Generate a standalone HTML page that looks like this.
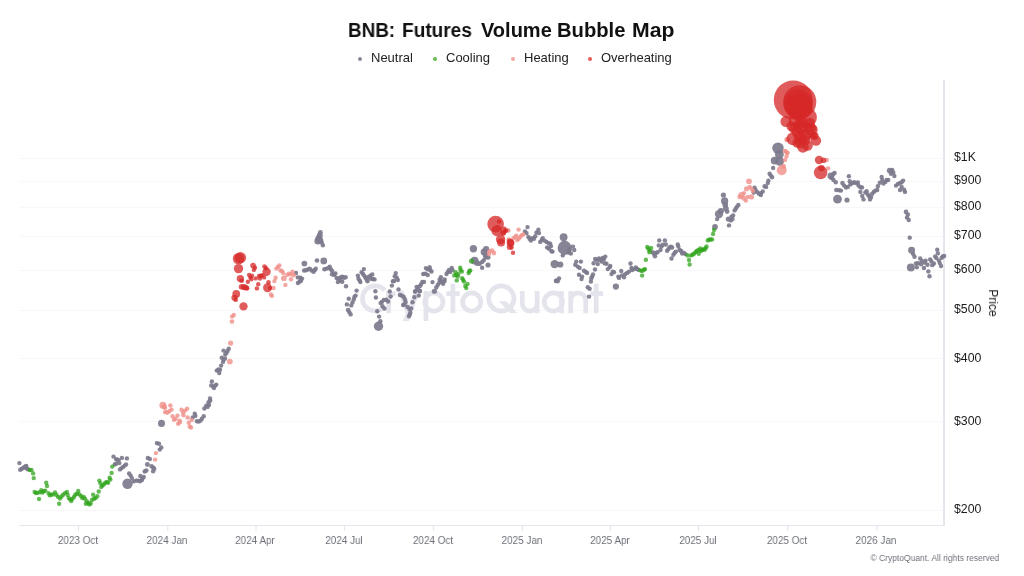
<!DOCTYPE html>
<html><head><meta charset="utf-8"><title>BNB: Futures Volume Bubble Map</title>
<style>
html,body{margin:0;padding:0;background:#fff;}
body>div{will-change:transform;}
body{width:1024px;height:576px;position:relative;overflow:hidden;font-family:"Liberation Sans",sans-serif;}
.title{position:absolute;left:0;width:1024px;top:18px;text-align:center;font-weight:bold;font-size:20px;line-height:24px;color:#111;white-space:nowrap;}
.tw{position:absolute;top:18px;font-weight:bold;font-size:20px;line-height:24px;color:#111;white-space:nowrap;transform-origin:0 50%;}
.lg{position:absolute;top:50px;font-size:13px;line-height:16px;color:#222;white-space:nowrap;}
.ld{position:absolute;top:56.5px;width:4px;height:4px;border-radius:50%;}
.yl{position:absolute;left:954px;font-size:12.3px;line-height:16px;color:#1a1a1a;white-space:nowrap;}
.xl{position:absolute;top:533.3px;width:80px;text-align:center;transform:scaleX(0.9);font-size:11px;line-height:14px;color:#6e7079;white-space:nowrap;}
.price{position:absolute;left:993px;top:302.7px;transform:translate(-50%,-50%) rotate(90deg);font-size:12px;color:#222;white-space:nowrap;}
.copy{position:absolute;right:24.7px;top:552.3px;transform:scaleX(0.893);transform-origin:100% 50%;font-size:9.5px;line-height:12px;color:#6e7079;white-space:nowrap;}
</style></head><body>
<svg width="1024" height="576" viewBox="0 0 1024 576" style="position:absolute;left:0;top:0">
<g stroke="#f8f8fa" stroke-width="1" shape-rendering="crispEdges">
<line x1="19" x2="944" y1="158.5" y2="158.5"/>
<line x1="19" x2="944" y1="181.5" y2="181.5"/>
<line x1="19" x2="944" y1="207.5" y2="207.5"/>
<line x1="19" x2="944" y1="236.5" y2="236.5"/>
<line x1="19" x2="944" y1="270.5" y2="270.5"/>
<line x1="19" x2="944" y1="310.5" y2="310.5"/>
<line x1="19" x2="944" y1="358.5" y2="358.5"/>
<line x1="19" x2="944" y1="421.5" y2="421.5"/>
<line x1="19" x2="944" y1="510.5" y2="510.5"/>
</g>
<path d="M384.75,290.30 A12.6,12.6 0 1 0 384.75,306.50 M388.6,313.2 V291 M388.6,300.4 a7,7 0 0 1 7,-7 M425.9,291 V321 M424.8,302 a9.1,9.1 0 1 0 18.2,0 a9.1,9.1 0 1 0 -18.2,0 M452.9,283.8 V313.2 M446.2,293.6 H459.8 M462.6,302 a9.1,9.1 0 1 0 18.2,0 a9.1,9.1 0 1 0 -18.2,0 M488.65,298.5 a12.65,12.65 0 1 0 25.3,0 a12.65,12.65 0 1 0 -25.3,0 M522.3,291 V303.65 a7.4,7.4 0 0 0 14.8,0 M537.1,291 V313.2 M544.25,302 a9.1,9.1 0 1 0 18.2,0 a9.1,9.1 0 1 0 -18.2,0 M561.5,291 V313.2 M570.7,313.2 V291 M570.7,300.35 a7.5,7.5 0 0 1 15,0 V313.2 M596.2,283.8 V313.2 M590.3,293.6 H603" fill="none" stroke="#e4e4ec" stroke-width="4.7"/><polygon points="414.4,290.6 420.4,290.6 408.9,321 402.9,321" fill="#e4e4ec"/><polygon points="397.4,290.6 403.4,290.6 411.9,313.4 405.9,313.4" fill="#e4e4ec"/><polygon points="498.9,301.2 505.9,301.2 517.2,312.9 510,312.9" fill="#e4e4ec"/>
<g fill="#e6e6ef" shape-rendering="crispEdges">
<rect x="943" y="80" width="2" height="446"/>
<rect x="19" y="524.6" width="926" height="1.4"/>
</g><g stroke="#e3e3ec" stroke-width="1">
<line x1="78.5" x2="78.5" y1="525" y2="531"/>
<line x1="167.8" x2="167.8" y1="525" y2="531"/>
<line x1="256.0" x2="256.0" y1="525" y2="531"/>
<line x1="344.3" x2="344.3" y1="525" y2="531"/>
<line x1="433.4" x2="433.4" y1="525" y2="531"/>
<line x1="522.6" x2="522.6" y1="525" y2="531"/>
<line x1="610.4" x2="610.4" y1="525" y2="531"/>
<line x1="698.5" x2="698.5" y1="525" y2="531"/>
<line x1="787.7" x2="787.7" y1="525" y2="531"/>
<line x1="877.0" x2="877.0" y1="525" y2="531"/>
</g>
<circle cx="19.38" cy="463.12" r="2.2" fill="#7c7a8c" fill-opacity="0.92"/>
<circle cx="20.25" cy="469.75" r="2.2" fill="#7c7a8c" fill-opacity="0.92"/>
<circle cx="21.88" cy="468.75" r="2.2" fill="#7c7a8c" fill-opacity="0.92"/>
<circle cx="23.75" cy="467.5" r="2.2" fill="#7c7a8c" fill-opacity="0.92"/>
<circle cx="25.62" cy="466.5" r="2.2048" fill="#7c7a8c" fill-opacity="0.92"/>
<circle cx="26.88" cy="468.5" r="2.2" fill="#7c7a8c" fill-opacity="0.92"/>
<circle cx="28.12" cy="469.38" r="2.2" fill="#7c7a8c" fill-opacity="0.92"/>
<circle cx="113.5" cy="456.62" r="2.2" fill="#7c7a8c" fill-opacity="0.92"/>
<circle cx="114.75" cy="464.38" r="2.2" fill="#7c7a8c" fill-opacity="0.92"/>
<circle cx="116.0" cy="459.12" r="2.2" fill="#7c7a8c" fill-opacity="0.92"/>
<circle cx="117.5" cy="459.75" r="2.2" fill="#7c7a8c" fill-opacity="0.92"/>
<circle cx="118.5" cy="460.25" r="2.2" fill="#7c7a8c" fill-opacity="0.92"/>
<circle cx="119.38" cy="463.12" r="2.2" fill="#7c7a8c" fill-opacity="0.92"/>
<circle cx="120.0" cy="469.38" r="2.2" fill="#7c7a8c" fill-opacity="0.92"/>
<circle cx="121.62" cy="468.12" r="2.2" fill="#7c7a8c" fill-opacity="0.92"/>
<circle cx="121.88" cy="457.88" r="2.2" fill="#7c7a8c" fill-opacity="0.92"/>
<circle cx="123.12" cy="466.88" r="2.2" fill="#7c7a8c" fill-opacity="0.92"/>
<circle cx="124.75" cy="465.62" r="2.2" fill="#7c7a8c" fill-opacity="0.92"/>
<circle cx="126.0" cy="464.38" r="2.2" fill="#7c7a8c" fill-opacity="0.92"/>
<circle cx="126.88" cy="458.38" r="2.2" fill="#7c7a8c" fill-opacity="0.92"/>
<circle cx="127.5" cy="483.75" r="5.2" fill="#7c7a8c" fill-opacity="0.92"/>
<circle cx="129.12" cy="473.5" r="2.2" fill="#7c7a8c" fill-opacity="0.92"/>
<circle cx="130.62" cy="475.62" r="2.2" fill="#7c7a8c" fill-opacity="0.92"/>
<circle cx="131.88" cy="478.12" r="2.2" fill="#7c7a8c" fill-opacity="0.92"/>
<circle cx="133.75" cy="481.25" r="2.2" fill="#7c7a8c" fill-opacity="0.92"/>
<circle cx="136.25" cy="480.62" r="2.2" fill="#7c7a8c" fill-opacity="0.92"/>
<circle cx="138.12" cy="480.62" r="2.2" fill="#7c7a8c" fill-opacity="0.92"/>
<circle cx="140.0" cy="481.25" r="2.2" fill="#7c7a8c" fill-opacity="0.92"/>
<circle cx="141.88" cy="480.0" r="2.2" fill="#7c7a8c" fill-opacity="0.92"/>
<circle cx="140.31" cy="475.94" r="2.2" fill="#7c7a8c" fill-opacity="0.92"/>
<circle cx="142.5" cy="478.44" r="2.2" fill="#7c7a8c" fill-opacity="0.92"/>
<circle cx="143.75" cy="476.88" r="2.2" fill="#7c7a8c" fill-opacity="0.92"/>
<circle cx="144.69" cy="471.56" r="2.2" fill="#7c7a8c" fill-opacity="0.92"/>
<circle cx="146.25" cy="470.62" r="2.34" fill="#7c7a8c" fill-opacity="0.92"/>
<circle cx="147.38" cy="464.5" r="2.4752" fill="#7c7a8c" fill-opacity="0.92"/>
<circle cx="147.81" cy="458.0" r="2.2" fill="#7c7a8c" fill-opacity="0.92"/>
<circle cx="149.88" cy="459.06" r="2.2" fill="#7c7a8c" fill-opacity="0.92"/>
<circle cx="151.56" cy="466.25" r="2.2" fill="#7c7a8c" fill-opacity="0.92"/>
<circle cx="153.12" cy="467.5" r="2.2" fill="#7c7a8c" fill-opacity="0.92"/>
<circle cx="154.25" cy="468.75" r="2.2" fill="#7c7a8c" fill-opacity="0.92"/>
<circle cx="153.12" cy="471.25" r="2.2" fill="#7c7a8c" fill-opacity="0.92"/>
<circle cx="156.88" cy="443.12" r="2.2" fill="#7c7a8c" fill-opacity="0.92"/>
<circle cx="159.0" cy="443.75" r="2.2" fill="#7c7a8c" fill-opacity="0.92"/>
<circle cx="161.25" cy="447.5" r="2.2" fill="#7c7a8c" fill-opacity="0.92"/>
<circle cx="159.75" cy="449.62" r="2.2" fill="#7c7a8c" fill-opacity="0.92"/>
<circle cx="161.5" cy="423.38" r="3.5152" fill="#7c7a8c" fill-opacity="0.92"/>
<circle cx="192.75" cy="417.5" r="2.2" fill="#7c7a8c" fill-opacity="0.92"/>
<circle cx="194.75" cy="413.75" r="2.2" fill="#7c7a8c" fill-opacity="0.92"/>
<circle cx="195.38" cy="415.88" r="2.2" fill="#7c7a8c" fill-opacity="0.92"/>
<circle cx="196.88" cy="421.25" r="2.2" fill="#7c7a8c" fill-opacity="0.92"/>
<circle cx="198.75" cy="421.5" r="2.2" fill="#7c7a8c" fill-opacity="0.92"/>
<circle cx="200.62" cy="420.62" r="2.2" fill="#7c7a8c" fill-opacity="0.92"/>
<circle cx="201.88" cy="418.75" r="2.2" fill="#7c7a8c" fill-opacity="0.92"/>
<circle cx="203.75" cy="416.25" r="2.2" fill="#7c7a8c" fill-opacity="0.92"/>
<circle cx="204.38" cy="408.5" r="2.2" fill="#7c7a8c" fill-opacity="0.92"/>
<circle cx="206.25" cy="405.62" r="2.2" fill="#7c7a8c" fill-opacity="0.92"/>
<circle cx="207.5" cy="406.88" r="2.2" fill="#7c7a8c" fill-opacity="0.92"/>
<circle cx="209.0" cy="405.0" r="2.2" fill="#7c7a8c" fill-opacity="0.92"/>
<circle cx="208.5" cy="402.25" r="2.2" fill="#7c7a8c" fill-opacity="0.92"/>
<circle cx="210.25" cy="400.62" r="2.2" fill="#7c7a8c" fill-opacity="0.92"/>
<circle cx="210.0" cy="398.5" r="2.2" fill="#7c7a8c" fill-opacity="0.92"/>
<circle cx="211.88" cy="381.5" r="2.2" fill="#7c7a8c" fill-opacity="0.92"/>
<circle cx="211.25" cy="385.38" r="2.2" fill="#7c7a8c" fill-opacity="0.92"/>
<circle cx="213.0" cy="386.5" r="2.2" fill="#7c7a8c" fill-opacity="0.92"/>
<circle cx="214.0" cy="388.12" r="2.2" fill="#7c7a8c" fill-opacity="0.92"/>
<circle cx="215.25" cy="385.62" r="2.2" fill="#7c7a8c" fill-opacity="0.92"/>
<circle cx="216.25" cy="384.62" r="2.2" fill="#7c7a8c" fill-opacity="0.92"/>
<circle cx="216.75" cy="370.62" r="2.2" fill="#7c7a8c" fill-opacity="0.92"/>
<circle cx="218.38" cy="369.38" r="2.2" fill="#7c7a8c" fill-opacity="0.92"/>
<circle cx="219.25" cy="373.12" r="2.2" fill="#7c7a8c" fill-opacity="0.92"/>
<circle cx="220.0" cy="369.75" r="2.2" fill="#7c7a8c" fill-opacity="0.92"/>
<circle cx="221.12" cy="365.62" r="2.2" fill="#7c7a8c" fill-opacity="0.92"/>
<circle cx="221.75" cy="357.75" r="2.2" fill="#7c7a8c" fill-opacity="0.92"/>
<circle cx="223.0" cy="361.88" r="2.2" fill="#7c7a8c" fill-opacity="0.92"/>
<circle cx="223.75" cy="359.62" r="2.2" fill="#7c7a8c" fill-opacity="0.92"/>
<circle cx="225.0" cy="358.5" r="2.2" fill="#7c7a8c" fill-opacity="0.92"/>
<circle cx="223.5" cy="350.62" r="2.2" fill="#7c7a8c" fill-opacity="0.92"/>
<circle cx="225.25" cy="354.38" r="2.2" fill="#7c7a8c" fill-opacity="0.92"/>
<circle cx="226.5" cy="352.75" r="2.2" fill="#7c7a8c" fill-opacity="0.92"/>
<circle cx="227.5" cy="351.0" r="2.2" fill="#7c7a8c" fill-opacity="0.92"/>
<circle cx="228.75" cy="348.75" r="2.2" fill="#7c7a8c" fill-opacity="0.92"/>
<circle cx="296.0" cy="273.0" r="2.2" fill="#7c7a8c" fill-opacity="0.92"/>
<circle cx="297.88" cy="277.38" r="2.2" fill="#7c7a8c" fill-opacity="0.92"/>
<circle cx="300.38" cy="277.75" r="2.2" fill="#7c7a8c" fill-opacity="0.92"/>
<circle cx="302.0" cy="278.62" r="2.2" fill="#7c7a8c" fill-opacity="0.92"/>
<circle cx="301.0" cy="280.75" r="2.2" fill="#7c7a8c" fill-opacity="0.92"/>
<circle cx="299.5" cy="281.75" r="2.2" fill="#7c7a8c" fill-opacity="0.92"/>
<circle cx="297.88" cy="283.0" r="2.2" fill="#7c7a8c" fill-opacity="0.92"/>
<circle cx="304.12" cy="270.5" r="2.2" fill="#7c7a8c" fill-opacity="0.92"/>
<circle cx="306.0" cy="270.25" r="2.2" fill="#7c7a8c" fill-opacity="0.92"/>
<circle cx="307.88" cy="269.5" r="2.2" fill="#7c7a8c" fill-opacity="0.92"/>
<circle cx="309.75" cy="268.62" r="2.2" fill="#7c7a8c" fill-opacity="0.92"/>
<circle cx="311.62" cy="270.5" r="2.2" fill="#7c7a8c" fill-opacity="0.92"/>
<circle cx="313.5" cy="271.75" r="2.2" fill="#7c7a8c" fill-opacity="0.92"/>
<circle cx="314.75" cy="270.25" r="2.2" fill="#7c7a8c" fill-opacity="0.92"/>
<circle cx="315.75" cy="268.62" r="2.2" fill="#7c7a8c" fill-opacity="0.92"/>
<circle cx="304.38" cy="263.62" r="2.8600000000000003" fill="#7c7a8c" fill-opacity="0.92"/>
<circle cx="317.0" cy="260.5" r="2.34" fill="#7c7a8c" fill-opacity="0.92"/>
<circle cx="323.75" cy="260.88" r="3.38" fill="#7c7a8c" fill-opacity="0.92"/>
<circle cx="324.5" cy="269.25" r="2.34" fill="#7c7a8c" fill-opacity="0.92"/>
<circle cx="326.62" cy="268.62" r="2.2" fill="#7c7a8c" fill-opacity="0.92"/>
<circle cx="328.5" cy="268.0" r="2.2" fill="#7c7a8c" fill-opacity="0.92"/>
<circle cx="329.75" cy="266.75" r="2.2" fill="#7c7a8c" fill-opacity="0.92"/>
<circle cx="331.0" cy="269.5" r="2.2" fill="#7c7a8c" fill-opacity="0.92"/>
<circle cx="332.25" cy="271.12" r="2.2" fill="#7c7a8c" fill-opacity="0.92"/>
<circle cx="332.0" cy="274.25" r="2.2" fill="#7c7a8c" fill-opacity="0.92"/>
<circle cx="334.12" cy="274.88" r="2.2" fill="#7c7a8c" fill-opacity="0.92"/>
<circle cx="335.38" cy="273.38" r="2.2" fill="#7c7a8c" fill-opacity="0.92"/>
<circle cx="336.62" cy="278.0" r="2.2" fill="#7c7a8c" fill-opacity="0.92"/>
<circle cx="338.5" cy="278.62" r="2.2" fill="#7c7a8c" fill-opacity="0.92"/>
<circle cx="340.38" cy="277.38" r="2.2" fill="#7c7a8c" fill-opacity="0.92"/>
<circle cx="342.25" cy="276.75" r="2.2" fill="#7c7a8c" fill-opacity="0.92"/>
<circle cx="337.88" cy="282.0" r="2.2" fill="#7c7a8c" fill-opacity="0.92"/>
<circle cx="340.38" cy="280.75" r="2.2" fill="#7c7a8c" fill-opacity="0.92"/>
<circle cx="342.25" cy="281.75" r="2.2" fill="#7c7a8c" fill-opacity="0.92"/>
<circle cx="320.38" cy="232.5" r="2.4752" fill="#7c7a8c" fill-opacity="0.92"/>
<circle cx="319.75" cy="235.62" r="2.9952" fill="#7c7a8c" fill-opacity="0.92"/>
<circle cx="318.88" cy="238.5" r="3.5152" fill="#7c7a8c" fill-opacity="0.92"/>
<circle cx="317.88" cy="241.0" r="3.5152" fill="#7c7a8c" fill-opacity="0.92"/>
<circle cx="320.38" cy="240.25" r="2.8600000000000003" fill="#7c7a8c" fill-opacity="0.92"/>
<circle cx="321.62" cy="242.5" r="2.34" fill="#7c7a8c" fill-opacity="0.92"/>
<circle cx="322.88" cy="245.25" r="2.2" fill="#7c7a8c" fill-opacity="0.92"/>
<circle cx="343.88" cy="277.75" r="2.2" fill="#7c7a8c" fill-opacity="0.92"/>
<circle cx="345.62" cy="277.25" r="2.2" fill="#7c7a8c" fill-opacity="0.92"/>
<circle cx="346.0" cy="286.25" r="2.2" fill="#7c7a8c" fill-opacity="0.92"/>
<circle cx="356.62" cy="290.62" r="2.2" fill="#7c7a8c" fill-opacity="0.92"/>
<circle cx="357.88" cy="275.62" r="2.2" fill="#7c7a8c" fill-opacity="0.92"/>
<circle cx="358.5" cy="278.75" r="2.2" fill="#7c7a8c" fill-opacity="0.92"/>
<circle cx="359.75" cy="280.62" r="2.2" fill="#7c7a8c" fill-opacity="0.92"/>
<circle cx="360.38" cy="282.12" r="2.2" fill="#7c7a8c" fill-opacity="0.92"/>
<circle cx="361.62" cy="272.25" r="2.2" fill="#7c7a8c" fill-opacity="0.92"/>
<circle cx="362.88" cy="273.75" r="2.2" fill="#7c7a8c" fill-opacity="0.92"/>
<circle cx="363.88" cy="269.12" r="2.2" fill="#7c7a8c" fill-opacity="0.92"/>
<circle cx="364.12" cy="275.62" r="2.2" fill="#7c7a8c" fill-opacity="0.92"/>
<circle cx="365.38" cy="277.5" r="2.2" fill="#7c7a8c" fill-opacity="0.92"/>
<circle cx="366.62" cy="279.38" r="2.2" fill="#7c7a8c" fill-opacity="0.92"/>
<circle cx="367.5" cy="281.25" r="2.2" fill="#7c7a8c" fill-opacity="0.92"/>
<circle cx="368.5" cy="276.88" r="2.2" fill="#7c7a8c" fill-opacity="0.92"/>
<circle cx="370.38" cy="275.62" r="2.2" fill="#7c7a8c" fill-opacity="0.92"/>
<circle cx="372.25" cy="274.38" r="2.2" fill="#7c7a8c" fill-opacity="0.92"/>
<circle cx="371.0" cy="278.75" r="2.2" fill="#7c7a8c" fill-opacity="0.92"/>
<circle cx="372.88" cy="279.0" r="2.2" fill="#7c7a8c" fill-opacity="0.92"/>
<circle cx="374.5" cy="279.38" r="2.2" fill="#7c7a8c" fill-opacity="0.92"/>
<circle cx="375.38" cy="291.25" r="2.2" fill="#7c7a8c" fill-opacity="0.92"/>
<circle cx="395.75" cy="273.12" r="2.2" fill="#7c7a8c" fill-opacity="0.92"/>
<circle cx="394.75" cy="276.25" r="2.2" fill="#7c7a8c" fill-opacity="0.92"/>
<circle cx="396.62" cy="277.5" r="2.2" fill="#7c7a8c" fill-opacity="0.92"/>
<circle cx="397.88" cy="280.0" r="2.2" fill="#7c7a8c" fill-opacity="0.92"/>
<circle cx="392.88" cy="281.25" r="2.2" fill="#7c7a8c" fill-opacity="0.92"/>
<circle cx="394.12" cy="281.0" r="2.2" fill="#7c7a8c" fill-opacity="0.92"/>
<circle cx="391.88" cy="285.62" r="2.2" fill="#7c7a8c" fill-opacity="0.92"/>
<circle cx="398.5" cy="289.38" r="2.2" fill="#7c7a8c" fill-opacity="0.92"/>
<circle cx="389.75" cy="291.5" r="2.2" fill="#7c7a8c" fill-opacity="0.92"/>
<circle cx="423.25" cy="274.0" r="2.2" fill="#7c7a8c" fill-opacity="0.92"/>
<circle cx="422.25" cy="281.88" r="2.2" fill="#7c7a8c" fill-opacity="0.92"/>
<circle cx="421.0" cy="284.38" r="2.2" fill="#7c7a8c" fill-opacity="0.92"/>
<circle cx="419.75" cy="286.25" r="2.2" fill="#7c7a8c" fill-opacity="0.92"/>
<circle cx="416.62" cy="286.88" r="2.2" fill="#7c7a8c" fill-opacity="0.92"/>
<circle cx="417.88" cy="288.75" r="2.2" fill="#7c7a8c" fill-opacity="0.92"/>
<circle cx="415.38" cy="291.25" r="2.2" fill="#7c7a8c" fill-opacity="0.92"/>
<circle cx="419.75" cy="291.25" r="2.2" fill="#7c7a8c" fill-opacity="0.92"/>
<circle cx="355.62" cy="295.62" r="2.2" fill="#7c7a8c" fill-opacity="0.92"/>
<circle cx="354.38" cy="296.88" r="2.2" fill="#7c7a8c" fill-opacity="0.92"/>
<circle cx="348.75" cy="298.75" r="2.2" fill="#7c7a8c" fill-opacity="0.92"/>
<circle cx="353.75" cy="299.38" r="2.2" fill="#7c7a8c" fill-opacity="0.92"/>
<circle cx="352.5" cy="302.5" r="2.2" fill="#7c7a8c" fill-opacity="0.92"/>
<circle cx="346.88" cy="304.38" r="2.2" fill="#7c7a8c" fill-opacity="0.92"/>
<circle cx="351.25" cy="305.38" r="2.2" fill="#7c7a8c" fill-opacity="0.92"/>
<circle cx="348.12" cy="310.0" r="2.34" fill="#7c7a8c" fill-opacity="0.92"/>
<circle cx="349.38" cy="312.25" r="2.2" fill="#7c7a8c" fill-opacity="0.92"/>
<circle cx="350.62" cy="314.38" r="2.2" fill="#7c7a8c" fill-opacity="0.92"/>
<circle cx="375.88" cy="297.5" r="2.2" fill="#7c7a8c" fill-opacity="0.92"/>
<circle cx="390.62" cy="296.5" r="2.2" fill="#7c7a8c" fill-opacity="0.92"/>
<circle cx="386.25" cy="299.75" r="2.2" fill="#7c7a8c" fill-opacity="0.92"/>
<circle cx="388.12" cy="301.5" r="2.2" fill="#7c7a8c" fill-opacity="0.92"/>
<circle cx="383.75" cy="300.0" r="2.2" fill="#7c7a8c" fill-opacity="0.92"/>
<circle cx="381.88" cy="301.88" r="2.2" fill="#7c7a8c" fill-opacity="0.92"/>
<circle cx="380.62" cy="303.12" r="2.2" fill="#7c7a8c" fill-opacity="0.92"/>
<circle cx="382.5" cy="306.25" r="2.2" fill="#7c7a8c" fill-opacity="0.92"/>
<circle cx="384.38" cy="308.5" r="2.2" fill="#7c7a8c" fill-opacity="0.92"/>
<circle cx="377.25" cy="311.25" r="2.2" fill="#7c7a8c" fill-opacity="0.92"/>
<circle cx="379.12" cy="316.62" r="2.2" fill="#7c7a8c" fill-opacity="0.92"/>
<circle cx="380.38" cy="321.25" r="2.2" fill="#7c7a8c" fill-opacity="0.92"/>
<circle cx="378.5" cy="326.25" r="4.68" fill="#7c7a8c" fill-opacity="0.92"/>
<circle cx="400.0" cy="295.0" r="2.34" fill="#7c7a8c" fill-opacity="0.92"/>
<circle cx="401.88" cy="295.62" r="2.2" fill="#7c7a8c" fill-opacity="0.92"/>
<circle cx="403.75" cy="296.88" r="2.2" fill="#7c7a8c" fill-opacity="0.92"/>
<circle cx="405.0" cy="299.38" r="2.2" fill="#7c7a8c" fill-opacity="0.92"/>
<circle cx="405.62" cy="301.88" r="2.2" fill="#7c7a8c" fill-opacity="0.92"/>
<circle cx="404.38" cy="304.38" r="2.2" fill="#7c7a8c" fill-opacity="0.92"/>
<circle cx="403.12" cy="305.0" r="2.2" fill="#7c7a8c" fill-opacity="0.92"/>
<circle cx="407.5" cy="306.88" r="2.2" fill="#7c7a8c" fill-opacity="0.92"/>
<circle cx="409.38" cy="309.0" r="2.2" fill="#7c7a8c" fill-opacity="0.92"/>
<circle cx="411.25" cy="308.5" r="2.2" fill="#7c7a8c" fill-opacity="0.92"/>
<circle cx="410.38" cy="312.75" r="2.2" fill="#7c7a8c" fill-opacity="0.92"/>
<circle cx="409.75" cy="314.38" r="2.2" fill="#7c7a8c" fill-opacity="0.92"/>
<circle cx="409.0" cy="316.25" r="2.2" fill="#7c7a8c" fill-opacity="0.92"/>
<circle cx="412.5" cy="302.25" r="2.2048" fill="#7c7a8c" fill-opacity="0.92"/>
<circle cx="414.38" cy="297.25" r="2.2" fill="#7c7a8c" fill-opacity="0.92"/>
<circle cx="415.0" cy="291.5" r="2.2" fill="#7c7a8c" fill-opacity="0.92"/>
<circle cx="418.75" cy="295.62" r="2.2" fill="#7c7a8c" fill-opacity="0.92"/>
<circle cx="420.0" cy="291.0" r="2.2" fill="#7c7a8c" fill-opacity="0.92"/>
<circle cx="432.5" cy="282.12" r="2.2" fill="#7c7a8c" fill-opacity="0.92"/>
<circle cx="434.38" cy="291.25" r="2.6" fill="#7c7a8c" fill-opacity="0.92"/>
<circle cx="436.25" cy="287.5" r="2.2" fill="#7c7a8c" fill-opacity="0.92"/>
<circle cx="437.75" cy="285.0" r="2.2" fill="#7c7a8c" fill-opacity="0.92"/>
<circle cx="439.38" cy="282.75" r="2.2" fill="#7c7a8c" fill-opacity="0.92"/>
<circle cx="441.25" cy="281.25" r="2.2" fill="#7c7a8c" fill-opacity="0.92"/>
<circle cx="443.12" cy="283.75" r="2.2" fill="#7c7a8c" fill-opacity="0.92"/>
<circle cx="444.38" cy="281.25" r="2.2" fill="#7c7a8c" fill-opacity="0.92"/>
<circle cx="425.88" cy="268.12" r="2.2" fill="#7c7a8c" fill-opacity="0.92"/>
<circle cx="427.75" cy="269.38" r="2.2" fill="#7c7a8c" fill-opacity="0.92"/>
<circle cx="429.62" cy="267.25" r="2.2" fill="#7c7a8c" fill-opacity="0.92"/>
<circle cx="430.25" cy="270.0" r="2.2" fill="#7c7a8c" fill-opacity="0.92"/>
<circle cx="431.5" cy="271.5" r="2.2" fill="#7c7a8c" fill-opacity="0.92"/>
<circle cx="425.25" cy="273.75" r="2.2" fill="#7c7a8c" fill-opacity="0.92"/>
<circle cx="427.75" cy="275.0" r="2.2" fill="#7c7a8c" fill-opacity="0.92"/>
<circle cx="424.0" cy="281.88" r="2.2" fill="#7c7a8c" fill-opacity="0.92"/>
<circle cx="440.88" cy="277.25" r="2.2" fill="#7c7a8c" fill-opacity="0.92"/>
<circle cx="439.62" cy="279.75" r="2.2" fill="#7c7a8c" fill-opacity="0.92"/>
<circle cx="444.62" cy="279.38" r="2.2" fill="#7c7a8c" fill-opacity="0.92"/>
<circle cx="442.75" cy="281.88" r="2.2" fill="#7c7a8c" fill-opacity="0.92"/>
<circle cx="446.5" cy="274.0" r="2.2" fill="#7c7a8c" fill-opacity="0.92"/>
<circle cx="447.75" cy="271.88" r="2.2" fill="#7c7a8c" fill-opacity="0.92"/>
<circle cx="449.0" cy="270.0" r="2.2" fill="#7c7a8c" fill-opacity="0.92"/>
<circle cx="450.25" cy="271.88" r="2.2" fill="#7c7a8c" fill-opacity="0.92"/>
<circle cx="451.75" cy="267.88" r="2.2" fill="#7c7a8c" fill-opacity="0.92"/>
<circle cx="452.5" cy="270.0" r="2.2" fill="#7c7a8c" fill-opacity="0.92"/>
<circle cx="473.38" cy="248.75" r="3.64" fill="#7c7a8c" fill-opacity="0.92"/>
<circle cx="474.62" cy="260.62" r="3.9000000000000004" fill="#7c7a8c" fill-opacity="0.92"/>
<circle cx="477.12" cy="263.12" r="2.8600000000000003" fill="#7c7a8c" fill-opacity="0.92"/>
<circle cx="479.62" cy="263.75" r="2.34" fill="#7c7a8c" fill-opacity="0.92"/>
<circle cx="482.12" cy="261.88" r="2.2" fill="#7c7a8c" fill-opacity="0.92"/>
<circle cx="482.12" cy="267.75" r="2.2" fill="#7c7a8c" fill-opacity="0.92"/>
<circle cx="483.75" cy="260.25" r="2.2" fill="#7c7a8c" fill-opacity="0.92"/>
<circle cx="488.0" cy="265.0" r="2.6" fill="#7c7a8c" fill-opacity="0.92"/>
<circle cx="484.0" cy="251.88" r="3.38" fill="#7c7a8c" fill-opacity="0.92"/>
<circle cx="486.12" cy="249.0" r="3.12" fill="#7c7a8c" fill-opacity="0.92"/>
<circle cx="485.5" cy="255.0" r="2.8600000000000003" fill="#7c7a8c" fill-opacity="0.92"/>
<circle cx="485.88" cy="257.5" r="2.34" fill="#7c7a8c" fill-opacity="0.92"/>
<circle cx="488.38" cy="257.5" r="2.2" fill="#7c7a8c" fill-opacity="0.92"/>
<circle cx="527.5" cy="227.12" r="2.2" fill="#7c7a8c" fill-opacity="0.92"/>
<circle cx="525.0" cy="231.5" r="2.2" fill="#7c7a8c" fill-opacity="0.92"/>
<circle cx="526.5" cy="233.12" r="2.2" fill="#7c7a8c" fill-opacity="0.92"/>
<circle cx="528.38" cy="236.88" r="2.2" fill="#7c7a8c" fill-opacity="0.92"/>
<circle cx="529.62" cy="238.75" r="2.2" fill="#7c7a8c" fill-opacity="0.92"/>
<circle cx="530.88" cy="240.62" r="2.2" fill="#7c7a8c" fill-opacity="0.92"/>
<circle cx="532.12" cy="238.12" r="2.2" fill="#7c7a8c" fill-opacity="0.92"/>
<circle cx="534.0" cy="238.75" r="2.2" fill="#7c7a8c" fill-opacity="0.92"/>
<circle cx="535.25" cy="236.25" r="2.2" fill="#7c7a8c" fill-opacity="0.92"/>
<circle cx="536.5" cy="232.5" r="2.2" fill="#7c7a8c" fill-opacity="0.92"/>
<circle cx="538.38" cy="229.75" r="2.2" fill="#7c7a8c" fill-opacity="0.92"/>
<circle cx="539.0" cy="233.12" r="2.2" fill="#7c7a8c" fill-opacity="0.92"/>
<circle cx="540.25" cy="241.88" r="2.2" fill="#7c7a8c" fill-opacity="0.92"/>
<circle cx="541.75" cy="240.0" r="2.2" fill="#7c7a8c" fill-opacity="0.92"/>
<circle cx="542.75" cy="238.12" r="2.2" fill="#7c7a8c" fill-opacity="0.92"/>
<circle cx="544.62" cy="240.62" r="2.2" fill="#7c7a8c" fill-opacity="0.92"/>
<circle cx="546.5" cy="241.88" r="2.2" fill="#7c7a8c" fill-opacity="0.92"/>
<circle cx="548.38" cy="243.12" r="2.2" fill="#7c7a8c" fill-opacity="0.92"/>
<circle cx="550.25" cy="243.75" r="2.2" fill="#7c7a8c" fill-opacity="0.92"/>
<circle cx="547.12" cy="247.5" r="2.2" fill="#7c7a8c" fill-opacity="0.92"/>
<circle cx="549.0" cy="248.75" r="2.2" fill="#7c7a8c" fill-opacity="0.92"/>
<circle cx="550.88" cy="246.25" r="2.2" fill="#7c7a8c" fill-opacity="0.92"/>
<circle cx="551.5" cy="251.25" r="2.2" fill="#7c7a8c" fill-opacity="0.92"/>
<circle cx="552.5" cy="251.62" r="2.2" fill="#7c7a8c" fill-opacity="0.92"/>
<circle cx="563.62" cy="237.25" r="3.9000000000000004" fill="#7c7a8c" fill-opacity="0.92"/>
<circle cx="564.62" cy="247.88" r="7.0200000000000005" fill="#7c7a8c" fill-opacity="0.92"/>
<circle cx="562.75" cy="255.38" r="2.2" fill="#7c7a8c" fill-opacity="0.92"/>
<circle cx="570.88" cy="253.5" r="2.2" fill="#7c7a8c" fill-opacity="0.92"/>
<circle cx="573.0" cy="246.62" r="2.2" fill="#7c7a8c" fill-opacity="0.92"/>
<circle cx="574.25" cy="250.0" r="2.2" fill="#7c7a8c" fill-opacity="0.92"/>
<circle cx="554.62" cy="264.12" r="4.16" fill="#7c7a8c" fill-opacity="0.92"/>
<circle cx="560.25" cy="264.5" r="3.12" fill="#7c7a8c" fill-opacity="0.92"/>
<circle cx="556.5" cy="280.38" r="2.2" fill="#7c7a8c" fill-opacity="0.92"/>
<circle cx="557.75" cy="281.25" r="2.2" fill="#7c7a8c" fill-opacity="0.92"/>
<circle cx="559.0" cy="278.5" r="2.2" fill="#7c7a8c" fill-opacity="0.92"/>
<circle cx="555.88" cy="281.0" r="2.2" fill="#7c7a8c" fill-opacity="0.92"/>
<circle cx="576.25" cy="261.62" r="2.2" fill="#7c7a8c" fill-opacity="0.92"/>
<circle cx="575.25" cy="264.75" r="2.2" fill="#7c7a8c" fill-opacity="0.92"/>
<circle cx="577.75" cy="266.62" r="2.2" fill="#7c7a8c" fill-opacity="0.92"/>
<circle cx="579.62" cy="267.88" r="2.2" fill="#7c7a8c" fill-opacity="0.92"/>
<circle cx="580.88" cy="261.62" r="2.2" fill="#7c7a8c" fill-opacity="0.92"/>
<circle cx="584.0" cy="270.75" r="2.2" fill="#7c7a8c" fill-opacity="0.92"/>
<circle cx="585.88" cy="272.0" r="2.2" fill="#7c7a8c" fill-opacity="0.92"/>
<circle cx="587.12" cy="272.88" r="2.2" fill="#7c7a8c" fill-opacity="0.92"/>
<circle cx="579.0" cy="274.75" r="2.2" fill="#7c7a8c" fill-opacity="0.92"/>
<circle cx="582.12" cy="276.62" r="2.2" fill="#7c7a8c" fill-opacity="0.92"/>
<circle cx="581.5" cy="279.12" r="2.2" fill="#7c7a8c" fill-opacity="0.92"/>
<circle cx="587.75" cy="287.25" r="2.2" fill="#7c7a8c" fill-opacity="0.92"/>
<circle cx="590.88" cy="281.62" r="2.2" fill="#7c7a8c" fill-opacity="0.92"/>
<circle cx="591.25" cy="278.5" r="2.2" fill="#7c7a8c" fill-opacity="0.92"/>
<circle cx="592.12" cy="276.62" r="2.2" fill="#7c7a8c" fill-opacity="0.92"/>
<circle cx="593.0" cy="274.5" r="2.2" fill="#7c7a8c" fill-opacity="0.92"/>
<circle cx="595.0" cy="269.5" r="2.2" fill="#7c7a8c" fill-opacity="0.92"/>
<circle cx="593.62" cy="263.25" r="2.2" fill="#7c7a8c" fill-opacity="0.92"/>
<circle cx="595.25" cy="259.12" r="2.34" fill="#7c7a8c" fill-opacity="0.92"/>
<circle cx="597.12" cy="260.38" r="2.2" fill="#7c7a8c" fill-opacity="0.92"/>
<circle cx="597.75" cy="264.12" r="2.2" fill="#7c7a8c" fill-opacity="0.92"/>
<circle cx="599.0" cy="258.5" r="2.2" fill="#7c7a8c" fill-opacity="0.92"/>
<circle cx="600.88" cy="259.75" r="2.2" fill="#7c7a8c" fill-opacity="0.92"/>
<circle cx="601.5" cy="261.62" r="2.2" fill="#7c7a8c" fill-opacity="0.92"/>
<circle cx="602.75" cy="257.88" r="2.2" fill="#7c7a8c" fill-opacity="0.92"/>
<circle cx="604.0" cy="259.12" r="2.2" fill="#7c7a8c" fill-opacity="0.92"/>
<circle cx="605.25" cy="256.62" r="2.2" fill="#7c7a8c" fill-opacity="0.92"/>
<circle cx="604.62" cy="263.25" r="2.2" fill="#7c7a8c" fill-opacity="0.92"/>
<circle cx="606.5" cy="263.75" r="2.2" fill="#7c7a8c" fill-opacity="0.92"/>
<circle cx="607.75" cy="269.12" r="2.2" fill="#7c7a8c" fill-opacity="0.92"/>
<circle cx="609.62" cy="267.25" r="2.2" fill="#7c7a8c" fill-opacity="0.92"/>
<circle cx="610.25" cy="266.0" r="2.2" fill="#7c7a8c" fill-opacity="0.92"/>
<circle cx="611.5" cy="274.12" r="2.2" fill="#7c7a8c" fill-opacity="0.92"/>
<circle cx="612.75" cy="271.62" r="2.2" fill="#7c7a8c" fill-opacity="0.92"/>
<circle cx="614.0" cy="272.25" r="2.2" fill="#7c7a8c" fill-opacity="0.92"/>
<circle cx="615.88" cy="286.62" r="3.12" fill="#7c7a8c" fill-opacity="0.92"/>
<circle cx="618.38" cy="276.62" r="2.2" fill="#7c7a8c" fill-opacity="0.92"/>
<circle cx="619.0" cy="277.88" r="2.2" fill="#7c7a8c" fill-opacity="0.92"/>
<circle cx="621.25" cy="271.0" r="2.2" fill="#7c7a8c" fill-opacity="0.92"/>
<circle cx="622.12" cy="275.38" r="2.2" fill="#7c7a8c" fill-opacity="0.92"/>
<circle cx="624.0" cy="277.25" r="2.2" fill="#7c7a8c" fill-opacity="0.92"/>
<circle cx="625.25" cy="274.12" r="2.2" fill="#7c7a8c" fill-opacity="0.92"/>
<circle cx="627.12" cy="272.88" r="2.2" fill="#7c7a8c" fill-opacity="0.92"/>
<circle cx="629.0" cy="271.62" r="2.2" fill="#7c7a8c" fill-opacity="0.92"/>
<circle cx="630.5" cy="263.5" r="2.2" fill="#7c7a8c" fill-opacity="0.92"/>
<circle cx="631.5" cy="267.88" r="2.2" fill="#7c7a8c" fill-opacity="0.92"/>
<circle cx="632.12" cy="270.0" r="2.2" fill="#7c7a8c" fill-opacity="0.92"/>
<circle cx="634.0" cy="269.12" r="2.2" fill="#7c7a8c" fill-opacity="0.92"/>
<circle cx="635.88" cy="267.5" r="2.2" fill="#7c7a8c" fill-opacity="0.92"/>
<circle cx="637.12" cy="269.12" r="2.2" fill="#7c7a8c" fill-opacity="0.92"/>
<circle cx="638.38" cy="269.75" r="2.2" fill="#7c7a8c" fill-opacity="0.92"/>
<circle cx="589.62" cy="288.75" r="2.2" fill="#7c7a8c" fill-opacity="0.92"/>
<circle cx="589.0" cy="296.62" r="2.2" fill="#7c7a8c" fill-opacity="0.92"/>
<circle cx="652.75" cy="252.25" r="2.2" fill="#7c7a8c" fill-opacity="0.92"/>
<circle cx="654.0" cy="254.12" r="2.2" fill="#7c7a8c" fill-opacity="0.92"/>
<circle cx="655.0" cy="256.25" r="2.2" fill="#7c7a8c" fill-opacity="0.92"/>
<circle cx="655.88" cy="252.88" r="2.2" fill="#7c7a8c" fill-opacity="0.92"/>
<circle cx="657.5" cy="252.25" r="2.2" fill="#7c7a8c" fill-opacity="0.92"/>
<circle cx="660.5" cy="250.0" r="2.2" fill="#7c7a8c" fill-opacity="0.92"/>
<circle cx="658.75" cy="245.38" r="2.2" fill="#7c7a8c" fill-opacity="0.92"/>
<circle cx="659.25" cy="240.38" r="2.2" fill="#7c7a8c" fill-opacity="0.92"/>
<circle cx="661.5" cy="246.62" r="2.2" fill="#7c7a8c" fill-opacity="0.92"/>
<circle cx="662.75" cy="244.75" r="2.2" fill="#7c7a8c" fill-opacity="0.92"/>
<circle cx="664.88" cy="240.38" r="2.2" fill="#7c7a8c" fill-opacity="0.92"/>
<circle cx="665.88" cy="244.5" r="2.2" fill="#7c7a8c" fill-opacity="0.92"/>
<circle cx="667.12" cy="250.75" r="2.2" fill="#7c7a8c" fill-opacity="0.92"/>
<circle cx="668.38" cy="249.12" r="2.2" fill="#7c7a8c" fill-opacity="0.92"/>
<circle cx="669.62" cy="247.5" r="2.2" fill="#7c7a8c" fill-opacity="0.92"/>
<circle cx="670.88" cy="246.62" r="2.2" fill="#7c7a8c" fill-opacity="0.92"/>
<circle cx="671.5" cy="258.5" r="2.2" fill="#7c7a8c" fill-opacity="0.92"/>
<circle cx="672.12" cy="247.5" r="2.2" fill="#7c7a8c" fill-opacity="0.92"/>
<circle cx="673.38" cy="254.75" r="2.2" fill="#7c7a8c" fill-opacity="0.92"/>
<circle cx="674.62" cy="252.88" r="2.2" fill="#7c7a8c" fill-opacity="0.92"/>
<circle cx="675.88" cy="251.62" r="2.2" fill="#7c7a8c" fill-opacity="0.92"/>
<circle cx="677.75" cy="244.5" r="2.2" fill="#7c7a8c" fill-opacity="0.92"/>
<circle cx="678.38" cy="246.62" r="2.2" fill="#7c7a8c" fill-opacity="0.92"/>
<circle cx="679.62" cy="250.0" r="2.2" fill="#7c7a8c" fill-opacity="0.92"/>
<circle cx="681.25" cy="251.0" r="2.2" fill="#7c7a8c" fill-opacity="0.92"/>
<circle cx="682.12" cy="253.5" r="2.2" fill="#7c7a8c" fill-opacity="0.92"/>
<circle cx="684.0" cy="252.88" r="2.2" fill="#7c7a8c" fill-opacity="0.92"/>
<circle cx="685.5" cy="254.12" r="2.2" fill="#7c7a8c" fill-opacity="0.92"/>
<circle cx="715.0" cy="226.88" r="2.8600000000000003" fill="#7c7a8c" fill-opacity="0.92"/>
<circle cx="717.12" cy="219.12" r="2.2" fill="#7c7a8c" fill-opacity="0.92"/>
<circle cx="719.0" cy="214.12" r="4.16" fill="#7c7a8c" fill-opacity="0.92"/>
<circle cx="720.88" cy="211.0" r="3.12" fill="#7c7a8c" fill-opacity="0.92"/>
<circle cx="724.62" cy="201.0" r="3.64" fill="#7c7a8c" fill-opacity="0.92"/>
<circle cx="725.25" cy="204.75" r="2.8600000000000003" fill="#7c7a8c" fill-opacity="0.92"/>
<circle cx="725.88" cy="208.5" r="2.8600000000000003" fill="#7c7a8c" fill-opacity="0.92"/>
<circle cx="727.12" cy="211.62" r="2.34" fill="#7c7a8c" fill-opacity="0.92"/>
<circle cx="729.0" cy="225.38" r="2.2" fill="#7c7a8c" fill-opacity="0.92"/>
<circle cx="728.38" cy="219.12" r="2.6" fill="#7c7a8c" fill-opacity="0.92"/>
<circle cx="730.88" cy="220.38" r="2.2" fill="#7c7a8c" fill-opacity="0.92"/>
<circle cx="732.5" cy="219.12" r="2.2" fill="#7c7a8c" fill-opacity="0.92"/>
<circle cx="731.5" cy="216.62" r="2.2" fill="#7c7a8c" fill-opacity="0.92"/>
<circle cx="733.12" cy="215.38" r="2.2" fill="#7c7a8c" fill-opacity="0.92"/>
<circle cx="734.62" cy="210.38" r="2.2" fill="#7c7a8c" fill-opacity="0.92"/>
<circle cx="735.88" cy="208.5" r="2.2" fill="#7c7a8c" fill-opacity="0.92"/>
<circle cx="737.12" cy="206.62" r="2.2" fill="#7c7a8c" fill-opacity="0.92"/>
<circle cx="738.38" cy="205.0" r="2.2" fill="#7c7a8c" fill-opacity="0.92"/>
<circle cx="723.38" cy="195.0" r="2.6" fill="#7c7a8c" fill-opacity="0.92"/>
<circle cx="754.62" cy="187.75" r="2.2" fill="#7c7a8c" fill-opacity="0.92"/>
<circle cx="755.5" cy="190.0" r="2.2" fill="#7c7a8c" fill-opacity="0.92"/>
<circle cx="753.75" cy="192.5" r="2.2" fill="#7c7a8c" fill-opacity="0.92"/>
<circle cx="757.12" cy="191.88" r="2.2" fill="#7c7a8c" fill-opacity="0.92"/>
<circle cx="759.0" cy="193.75" r="2.34" fill="#7c7a8c" fill-opacity="0.92"/>
<circle cx="760.88" cy="195.0" r="2.2" fill="#7c7a8c" fill-opacity="0.92"/>
<circle cx="762.75" cy="191.5" r="2.2" fill="#7c7a8c" fill-opacity="0.92"/>
<circle cx="760.88" cy="193.12" r="2.2" fill="#7c7a8c" fill-opacity="0.92"/>
<circle cx="764.62" cy="186.25" r="2.2" fill="#7c7a8c" fill-opacity="0.92"/>
<circle cx="766.12" cy="186.88" r="2.2" fill="#7c7a8c" fill-opacity="0.92"/>
<circle cx="767.75" cy="183.12" r="2.2" fill="#7c7a8c" fill-opacity="0.92"/>
<circle cx="768.38" cy="180.62" r="2.2" fill="#7c7a8c" fill-opacity="0.92"/>
<circle cx="769.62" cy="173.75" r="2.2" fill="#7c7a8c" fill-opacity="0.92"/>
<circle cx="770.88" cy="175.62" r="2.2" fill="#7c7a8c" fill-opacity="0.92"/>
<circle cx="772.12" cy="177.25" r="2.2" fill="#7c7a8c" fill-opacity="0.92"/>
<circle cx="773.12" cy="167.88" r="2.2" fill="#7c7a8c" fill-opacity="0.92"/>
<circle cx="774.62" cy="160.62" r="3.9000000000000004" fill="#7c7a8c" fill-opacity="0.92"/>
<circle cx="779.62" cy="161.25" r="4.42" fill="#7c7a8c" fill-opacity="0.92"/>
<circle cx="779.38" cy="154.38" r="4.42" fill="#7c7a8c" fill-opacity="0.92"/>
<circle cx="778.0" cy="148.12" r="5.720000000000001" fill="#7c7a8c" fill-opacity="0.92"/>
<circle cx="830.88" cy="176.0" r="3.38" fill="#7c7a8c" fill-opacity="0.92"/>
<circle cx="834.5" cy="173.12" r="2.34" fill="#7c7a8c" fill-opacity="0.92"/>
<circle cx="832.88" cy="174.38" r="2.2" fill="#7c7a8c" fill-opacity="0.92"/>
<circle cx="831.62" cy="178.12" r="2.2" fill="#7c7a8c" fill-opacity="0.92"/>
<circle cx="833.5" cy="180.0" r="2.2" fill="#7c7a8c" fill-opacity="0.92"/>
<circle cx="835.75" cy="182.25" r="2.2" fill="#7c7a8c" fill-opacity="0.92"/>
<circle cx="836.38" cy="190.0" r="2.34" fill="#7c7a8c" fill-opacity="0.92"/>
<circle cx="839.12" cy="190.25" r="2.2" fill="#7c7a8c" fill-opacity="0.92"/>
<circle cx="841.0" cy="190.62" r="2.2" fill="#7c7a8c" fill-opacity="0.92"/>
<circle cx="842.5" cy="183.12" r="2.34" fill="#7c7a8c" fill-opacity="0.92"/>
<circle cx="844.12" cy="185.62" r="2.2" fill="#7c7a8c" fill-opacity="0.92"/>
<circle cx="846.0" cy="187.5" r="2.2" fill="#7c7a8c" fill-opacity="0.92"/>
<circle cx="847.88" cy="186.88" r="2.2" fill="#7c7a8c" fill-opacity="0.92"/>
<circle cx="848.88" cy="176.25" r="2.2" fill="#7c7a8c" fill-opacity="0.92"/>
<circle cx="849.75" cy="181.25" r="2.2" fill="#7c7a8c" fill-opacity="0.92"/>
<circle cx="850.38" cy="184.38" r="2.2" fill="#7c7a8c" fill-opacity="0.92"/>
<circle cx="852.25" cy="183.12" r="2.2" fill="#7c7a8c" fill-opacity="0.92"/>
<circle cx="854.12" cy="182.25" r="2.2" fill="#7c7a8c" fill-opacity="0.92"/>
<circle cx="856.0" cy="183.12" r="2.2" fill="#7c7a8c" fill-opacity="0.92"/>
<circle cx="857.88" cy="182.5" r="2.2" fill="#7c7a8c" fill-opacity="0.92"/>
<circle cx="858.5" cy="185.62" r="2.2" fill="#7c7a8c" fill-opacity="0.92"/>
<circle cx="860.38" cy="187.25" r="2.2" fill="#7c7a8c" fill-opacity="0.92"/>
<circle cx="862.0" cy="187.5" r="2.2" fill="#7c7a8c" fill-opacity="0.92"/>
<circle cx="860.38" cy="191.88" r="2.2" fill="#7c7a8c" fill-opacity="0.92"/>
<circle cx="862.25" cy="196.0" r="2.2" fill="#7c7a8c" fill-opacity="0.92"/>
<circle cx="863.5" cy="199.38" r="2.2" fill="#7c7a8c" fill-opacity="0.92"/>
<circle cx="865.38" cy="192.5" r="2.2" fill="#7c7a8c" fill-opacity="0.92"/>
<circle cx="866.62" cy="191.25" r="2.2" fill="#7c7a8c" fill-opacity="0.92"/>
<circle cx="867.88" cy="194.38" r="2.2" fill="#7c7a8c" fill-opacity="0.92"/>
<circle cx="869.12" cy="196.25" r="2.2" fill="#7c7a8c" fill-opacity="0.92"/>
<circle cx="871.0" cy="197.25" r="2.2" fill="#7c7a8c" fill-opacity="0.92"/>
<circle cx="870.0" cy="199.38" r="2.2" fill="#7c7a8c" fill-opacity="0.92"/>
<circle cx="872.25" cy="193.75" r="2.2" fill="#7c7a8c" fill-opacity="0.92"/>
<circle cx="873.75" cy="191.88" r="2.2" fill="#7c7a8c" fill-opacity="0.92"/>
<circle cx="875.38" cy="190.62" r="2.2" fill="#7c7a8c" fill-opacity="0.92"/>
<circle cx="877.25" cy="190.0" r="2.2" fill="#7c7a8c" fill-opacity="0.92"/>
<circle cx="877.88" cy="186.25" r="2.2048" fill="#7c7a8c" fill-opacity="0.92"/>
<circle cx="879.75" cy="182.75" r="2.2" fill="#7c7a8c" fill-opacity="0.92"/>
<circle cx="881.62" cy="176.88" r="2.2" fill="#7c7a8c" fill-opacity="0.92"/>
<circle cx="882.25" cy="180.0" r="2.2" fill="#7c7a8c" fill-opacity="0.92"/>
<circle cx="883.5" cy="183.5" r="2.2" fill="#7c7a8c" fill-opacity="0.92"/>
<circle cx="885.38" cy="181.88" r="2.2" fill="#7c7a8c" fill-opacity="0.92"/>
<circle cx="886.62" cy="180.0" r="2.2" fill="#7c7a8c" fill-opacity="0.92"/>
<circle cx="888.25" cy="180.0" r="2.2" fill="#7c7a8c" fill-opacity="0.92"/>
<circle cx="837.5" cy="199.12" r="4.42" fill="#7c7a8c" fill-opacity="0.92"/>
<circle cx="847.0" cy="200.0" r="2.6" fill="#7c7a8c" fill-opacity="0.92"/>
<circle cx="889.75" cy="170.62" r="2.8600000000000003" fill="#7c7a8c" fill-opacity="0.92"/>
<circle cx="892.25" cy="170.0" r="2.2" fill="#7c7a8c" fill-opacity="0.92"/>
<circle cx="891.0" cy="173.75" r="2.2" fill="#7c7a8c" fill-opacity="0.92"/>
<circle cx="893.25" cy="172.5" r="2.2" fill="#7c7a8c" fill-opacity="0.92"/>
<circle cx="894.38" cy="176.0" r="2.2" fill="#7c7a8c" fill-opacity="0.92"/>
<circle cx="896.0" cy="185.62" r="2.2" fill="#7c7a8c" fill-opacity="0.92"/>
<circle cx="897.88" cy="184.0" r="2.2" fill="#7c7a8c" fill-opacity="0.92"/>
<circle cx="899.75" cy="183.12" r="2.2" fill="#7c7a8c" fill-opacity="0.92"/>
<circle cx="901.62" cy="182.25" r="2.2" fill="#7c7a8c" fill-opacity="0.92"/>
<circle cx="903.12" cy="180.62" r="2.2" fill="#7c7a8c" fill-opacity="0.92"/>
<circle cx="900.0" cy="190.0" r="2.2" fill="#7c7a8c" fill-opacity="0.92"/>
<circle cx="901.62" cy="186.88" r="2.2" fill="#7c7a8c" fill-opacity="0.92"/>
<circle cx="904.12" cy="189.75" r="2.2" fill="#7c7a8c" fill-opacity="0.92"/>
<circle cx="905.0" cy="191.88" r="2.2" fill="#7c7a8c" fill-opacity="0.92"/>
<circle cx="906.0" cy="211.88" r="2.34" fill="#7c7a8c" fill-opacity="0.92"/>
<circle cx="907.88" cy="214.38" r="2.2" fill="#7c7a8c" fill-opacity="0.92"/>
<circle cx="907.0" cy="217.5" r="2.2" fill="#7c7a8c" fill-opacity="0.92"/>
<circle cx="908.75" cy="220.0" r="2.2" fill="#7c7a8c" fill-opacity="0.92"/>
<circle cx="909.75" cy="237.67" r="2.2" fill="#7c7a8c" fill-opacity="0.92"/>
<circle cx="911.58" cy="250.17" r="3.4632" fill="#7c7a8c" fill-opacity="0.92"/>
<circle cx="913.08" cy="253.92" r="2.2" fill="#7c7a8c" fill-opacity="0.92"/>
<circle cx="914.5" cy="256.83" r="2.2568" fill="#7c7a8c" fill-opacity="0.92"/>
<circle cx="910.83" cy="267.5" r="3.9832" fill="#7c7a8c" fill-opacity="0.92"/>
<circle cx="916.0" cy="263.5" r="2.2568" fill="#7c7a8c" fill-opacity="0.92"/>
<circle cx="918.08" cy="263.08" r="2.2" fill="#7c7a8c" fill-opacity="0.92"/>
<circle cx="916.83" cy="267.25" r="2.2" fill="#7c7a8c" fill-opacity="0.92"/>
<circle cx="920.17" cy="258.5" r="2.2" fill="#7c7a8c" fill-opacity="0.92"/>
<circle cx="921.0" cy="264.33" r="2.2568" fill="#7c7a8c" fill-opacity="0.92"/>
<circle cx="921.83" cy="261.0" r="2.2" fill="#7c7a8c" fill-opacity="0.92"/>
<circle cx="923.92" cy="268.08" r="2.2568" fill="#7c7a8c" fill-opacity="0.92"/>
<circle cx="925.58" cy="260.58" r="2.2" fill="#7c7a8c" fill-opacity="0.92"/>
<circle cx="924.75" cy="262.67" r="2.2" fill="#7c7a8c" fill-opacity="0.92"/>
<circle cx="927.5" cy="264.75" r="2.2" fill="#7c7a8c" fill-opacity="0.92"/>
<circle cx="928.33" cy="271.42" r="2.2" fill="#7c7a8c" fill-opacity="0.92"/>
<circle cx="929.5" cy="276.25" r="2.2" fill="#7c7a8c" fill-opacity="0.92"/>
<circle cx="930.17" cy="259.33" r="2.2" fill="#7c7a8c" fill-opacity="0.92"/>
<circle cx="931.42" cy="261.42" r="2.2" fill="#7c7a8c" fill-opacity="0.92"/>
<circle cx="932.25" cy="265.17" r="2.2" fill="#7c7a8c" fill-opacity="0.92"/>
<circle cx="933.92" cy="263.5" r="2.2" fill="#7c7a8c" fill-opacity="0.92"/>
<circle cx="935.17" cy="256.42" r="2.2" fill="#7c7a8c" fill-opacity="0.92"/>
<circle cx="936.42" cy="258.08" r="2.2" fill="#7c7a8c" fill-opacity="0.92"/>
<circle cx="937.25" cy="249.75" r="2.2" fill="#7c7a8c" fill-opacity="0.92"/>
<circle cx="937.92" cy="253.33" r="2.2" fill="#7c7a8c" fill-opacity="0.92"/>
<circle cx="938.92" cy="260.58" r="2.2" fill="#7c7a8c" fill-opacity="0.92"/>
<circle cx="939.75" cy="263.08" r="2.2" fill="#7c7a8c" fill-opacity="0.92"/>
<circle cx="941.0" cy="266.0" r="2.2" fill="#7c7a8c" fill-opacity="0.92"/>
<circle cx="941.67" cy="257.83" r="2.2" fill="#7c7a8c" fill-opacity="0.92"/>
<circle cx="942.67" cy="256.42" r="2.2" fill="#7c7a8c" fill-opacity="0.92"/>
<circle cx="944.17" cy="256.0" r="2.2" fill="#7c7a8c" fill-opacity="0.92"/>
<circle cx="24.75" cy="467.25" r="2.2" fill="#7c7a8c" fill-opacity="0.92"/>
<circle cx="26.25" cy="466.0" r="2.2" fill="#7c7a8c" fill-opacity="0.92"/>
<circle cx="26.0" cy="467.75" r="2.2" fill="#7c7a8c" fill-opacity="0.92"/>
<circle cx="116.0" cy="463.75" r="2.2" fill="#7c7a8c" fill-opacity="0.92"/>
<circle cx="569.62" cy="249.5" r="2.34" fill="#7c7a8c" fill-opacity="0.92"/>
<circle cx="568.38" cy="252.5" r="2.2" fill="#7c7a8c" fill-opacity="0.92"/>
<circle cx="29.75" cy="470.0" r="2.2" fill="#2ea31a" fill-opacity="0.74"/>
<circle cx="31.5" cy="470.0" r="2.2" fill="#2ea31a" fill-opacity="0.74"/>
<circle cx="33.12" cy="473.38" r="2.2" fill="#2ea31a" fill-opacity="0.74"/>
<circle cx="33.75" cy="478.12" r="2.2" fill="#2ea31a" fill-opacity="0.74"/>
<circle cx="34.62" cy="491.88" r="2.2" fill="#2ea31a" fill-opacity="0.74"/>
<circle cx="35.88" cy="493.12" r="2.2" fill="#2ea31a" fill-opacity="0.74"/>
<circle cx="37.5" cy="492.75" r="2.2" fill="#2ea31a" fill-opacity="0.74"/>
<circle cx="39.0" cy="499.0" r="2.2" fill="#2ea31a" fill-opacity="0.74"/>
<circle cx="40.0" cy="492.25" r="2.2" fill="#2ea31a" fill-opacity="0.74"/>
<circle cx="41.25" cy="490.25" r="2.2" fill="#2ea31a" fill-opacity="0.74"/>
<circle cx="42.5" cy="492.5" r="2.2" fill="#2ea31a" fill-opacity="0.74"/>
<circle cx="43.75" cy="491.25" r="2.2" fill="#2ea31a" fill-opacity="0.74"/>
<circle cx="45.25" cy="490.62" r="2.2" fill="#2ea31a" fill-opacity="0.74"/>
<circle cx="46.25" cy="482.75" r="2.2" fill="#2ea31a" fill-opacity="0.74"/>
<circle cx="47.0" cy="486.0" r="2.2" fill="#2ea31a" fill-opacity="0.74"/>
<circle cx="48.5" cy="493.12" r="2.2" fill="#2ea31a" fill-opacity="0.74"/>
<circle cx="49.75" cy="495.25" r="2.2" fill="#2ea31a" fill-opacity="0.74"/>
<circle cx="51.25" cy="494.75" r="2.2" fill="#2ea31a" fill-opacity="0.74"/>
<circle cx="53.12" cy="494.38" r="2.2" fill="#2ea31a" fill-opacity="0.74"/>
<circle cx="55.0" cy="492.5" r="2.2" fill="#2ea31a" fill-opacity="0.74"/>
<circle cx="56.5" cy="495.0" r="2.2" fill="#2ea31a" fill-opacity="0.74"/>
<circle cx="58.12" cy="496.88" r="2.2" fill="#2ea31a" fill-opacity="0.74"/>
<circle cx="59.12" cy="503.75" r="2.2" fill="#2ea31a" fill-opacity="0.74"/>
<circle cx="60.0" cy="498.5" r="2.2" fill="#2ea31a" fill-opacity="0.74"/>
<circle cx="61.5" cy="496.5" r="2.2" fill="#2ea31a" fill-opacity="0.74"/>
<circle cx="63.12" cy="494.75" r="2.2" fill="#2ea31a" fill-opacity="0.74"/>
<circle cx="65.0" cy="493.12" r="2.2" fill="#2ea31a" fill-opacity="0.74"/>
<circle cx="66.88" cy="491.88" r="2.2" fill="#2ea31a" fill-opacity="0.74"/>
<circle cx="67.75" cy="495.0" r="2.2" fill="#2ea31a" fill-opacity="0.74"/>
<circle cx="68.75" cy="498.12" r="2.2" fill="#2ea31a" fill-opacity="0.74"/>
<circle cx="70.25" cy="499.38" r="2.2" fill="#2ea31a" fill-opacity="0.74"/>
<circle cx="71.25" cy="501.0" r="2.2" fill="#2ea31a" fill-opacity="0.74"/>
<circle cx="72.5" cy="498.75" r="2.2" fill="#2ea31a" fill-opacity="0.74"/>
<circle cx="74.0" cy="496.88" r="2.2" fill="#2ea31a" fill-opacity="0.74"/>
<circle cx="75.25" cy="494.75" r="2.2" fill="#2ea31a" fill-opacity="0.74"/>
<circle cx="76.88" cy="493.75" r="2.2" fill="#2ea31a" fill-opacity="0.74"/>
<circle cx="78.25" cy="491.0" r="2.2" fill="#2ea31a" fill-opacity="0.74"/>
<circle cx="79.38" cy="494.38" r="2.2" fill="#2ea31a" fill-opacity="0.74"/>
<circle cx="81.0" cy="496.0" r="2.2" fill="#2ea31a" fill-opacity="0.74"/>
<circle cx="82.25" cy="498.12" r="2.2" fill="#2ea31a" fill-opacity="0.74"/>
<circle cx="83.75" cy="496.88" r="2.2" fill="#2ea31a" fill-opacity="0.74"/>
<circle cx="85.0" cy="498.75" r="2.2" fill="#2ea31a" fill-opacity="0.74"/>
<circle cx="85.88" cy="503.75" r="2.2" fill="#2ea31a" fill-opacity="0.74"/>
<circle cx="86.88" cy="501.25" r="2.2" fill="#2ea31a" fill-opacity="0.74"/>
<circle cx="88.12" cy="503.12" r="2.2" fill="#2ea31a" fill-opacity="0.74"/>
<circle cx="89.38" cy="504.38" r="2.2" fill="#2ea31a" fill-opacity="0.74"/>
<circle cx="90.62" cy="503.5" r="2.2" fill="#2ea31a" fill-opacity="0.74"/>
<circle cx="91.88" cy="500.0" r="2.2" fill="#2ea31a" fill-opacity="0.74"/>
<circle cx="93.12" cy="494.75" r="2.2" fill="#2ea31a" fill-opacity="0.74"/>
<circle cx="94.0" cy="498.75" r="2.2" fill="#2ea31a" fill-opacity="0.74"/>
<circle cx="95.62" cy="498.12" r="2.2" fill="#2ea31a" fill-opacity="0.74"/>
<circle cx="97.25" cy="496.25" r="2.2" fill="#2ea31a" fill-opacity="0.74"/>
<circle cx="98.75" cy="491.5" r="2.2" fill="#2ea31a" fill-opacity="0.74"/>
<circle cx="99.38" cy="480.62" r="2.2" fill="#2ea31a" fill-opacity="0.74"/>
<circle cx="100.25" cy="483.12" r="2.2" fill="#2ea31a" fill-opacity="0.74"/>
<circle cx="101.25" cy="486.88" r="2.2" fill="#2ea31a" fill-opacity="0.74"/>
<circle cx="102.5" cy="485.62" r="2.2" fill="#2ea31a" fill-opacity="0.74"/>
<circle cx="103.75" cy="484.38" r="2.2" fill="#2ea31a" fill-opacity="0.74"/>
<circle cx="105.25" cy="482.75" r="2.2" fill="#2ea31a" fill-opacity="0.74"/>
<circle cx="106.88" cy="481.88" r="2.2" fill="#2ea31a" fill-opacity="0.74"/>
<circle cx="108.12" cy="482.75" r="2.2" fill="#2ea31a" fill-opacity="0.74"/>
<circle cx="109.62" cy="477.75" r="2.2" fill="#2ea31a" fill-opacity="0.74"/>
<circle cx="110.38" cy="479.62" r="2.2" fill="#2ea31a" fill-opacity="0.74"/>
<circle cx="111.62" cy="472.88" r="2.2" fill="#2ea31a" fill-opacity="0.74"/>
<circle cx="112.25" cy="466.62" r="2.2" fill="#2ea31a" fill-opacity="0.74"/>
<circle cx="455.62" cy="272.25" r="2.2" fill="#2ea31a" fill-opacity="0.74"/>
<circle cx="454.25" cy="275.38" r="2.2" fill="#2ea31a" fill-opacity="0.74"/>
<circle cx="456.25" cy="275.0" r="2.2" fill="#2ea31a" fill-opacity="0.74"/>
<circle cx="458.38" cy="274.0" r="2.2" fill="#2ea31a" fill-opacity="0.74"/>
<circle cx="457.75" cy="276.5" r="2.2" fill="#2ea31a" fill-opacity="0.74"/>
<circle cx="456.75" cy="280.38" r="2.2" fill="#2ea31a" fill-opacity="0.74"/>
<circle cx="460.25" cy="267.75" r="2.2" fill="#2ea31a" fill-opacity="0.74"/>
<circle cx="460.5" cy="270.0" r="2.2" fill="#2ea31a" fill-opacity="0.74"/>
<circle cx="461.88" cy="271.5" r="2.2" fill="#2ea31a" fill-opacity="0.74"/>
<circle cx="462.12" cy="278.12" r="2.2" fill="#2ea31a" fill-opacity="0.74"/>
<circle cx="463.0" cy="279.75" r="2.2" fill="#2ea31a" fill-opacity="0.74"/>
<circle cx="464.0" cy="281.5" r="2.2" fill="#2ea31a" fill-opacity="0.74"/>
<circle cx="465.25" cy="285.88" r="2.2" fill="#2ea31a" fill-opacity="0.74"/>
<circle cx="466.25" cy="288.12" r="2.2" fill="#2ea31a" fill-opacity="0.74"/>
<circle cx="467.5" cy="284.0" r="2.2" fill="#2ea31a" fill-opacity="0.74"/>
<circle cx="468.62" cy="273.12" r="2.2" fill="#2ea31a" fill-opacity="0.74"/>
<circle cx="469.25" cy="271.25" r="2.2" fill="#2ea31a" fill-opacity="0.74"/>
<circle cx="470.25" cy="270.38" r="2.2" fill="#2ea31a" fill-opacity="0.74"/>
<circle cx="471.5" cy="261.0" r="2.6" fill="#2ea31a" fill-opacity="0.74"/>
<circle cx="640.5" cy="270.38" r="2.2" fill="#2ea31a" fill-opacity="0.74"/>
<circle cx="642.12" cy="271.0" r="2.2" fill="#2ea31a" fill-opacity="0.74"/>
<circle cx="644.0" cy="269.75" r="2.2" fill="#2ea31a" fill-opacity="0.74"/>
<circle cx="645.0" cy="269.12" r="2.2" fill="#2ea31a" fill-opacity="0.74"/>
<circle cx="642.12" cy="275.62" r="2.2" fill="#2ea31a" fill-opacity="0.74"/>
<circle cx="645.88" cy="259.75" r="2.2" fill="#2ea31a" fill-opacity="0.74"/>
<circle cx="647.25" cy="247.0" r="2.2" fill="#2ea31a" fill-opacity="0.74"/>
<circle cx="648.38" cy="248.75" r="2.2" fill="#2ea31a" fill-opacity="0.74"/>
<circle cx="649.62" cy="250.38" r="2.2" fill="#2ea31a" fill-opacity="0.74"/>
<circle cx="651.12" cy="247.88" r="2.2" fill="#2ea31a" fill-opacity="0.74"/>
<circle cx="649.38" cy="252.25" r="2.2" fill="#2ea31a" fill-opacity="0.74"/>
<circle cx="687.5" cy="255.38" r="2.2" fill="#2ea31a" fill-opacity="0.74"/>
<circle cx="689.0" cy="260.0" r="2.2" fill="#2ea31a" fill-opacity="0.74"/>
<circle cx="689.62" cy="264.5" r="2.2" fill="#2ea31a" fill-opacity="0.74"/>
<circle cx="690.88" cy="255.38" r="2.2" fill="#2ea31a" fill-opacity="0.74"/>
<circle cx="692.5" cy="254.75" r="2.2" fill="#2ea31a" fill-opacity="0.74"/>
<circle cx="694.0" cy="253.75" r="2.2" fill="#2ea31a" fill-opacity="0.74"/>
<circle cx="695.5" cy="252.25" r="2.2" fill="#2ea31a" fill-opacity="0.74"/>
<circle cx="696.75" cy="251.0" r="2.2" fill="#2ea31a" fill-opacity="0.74"/>
<circle cx="698.38" cy="250.0" r="2.2" fill="#2ea31a" fill-opacity="0.74"/>
<circle cx="698.75" cy="253.75" r="2.2" fill="#2ea31a" fill-opacity="0.74"/>
<circle cx="700.25" cy="248.5" r="2.2" fill="#2ea31a" fill-opacity="0.74"/>
<circle cx="700.88" cy="251.0" r="2.2" fill="#2ea31a" fill-opacity="0.74"/>
<circle cx="702.12" cy="250.0" r="2.2" fill="#2ea31a" fill-opacity="0.74"/>
<circle cx="703.38" cy="249.12" r="2.2" fill="#2ea31a" fill-opacity="0.74"/>
<circle cx="704.62" cy="249.75" r="2.2" fill="#2ea31a" fill-opacity="0.74"/>
<circle cx="705.62" cy="248.25" r="2.2" fill="#2ea31a" fill-opacity="0.74"/>
<circle cx="706.5" cy="246.38" r="2.2" fill="#2ea31a" fill-opacity="0.74"/>
<circle cx="707.75" cy="240.38" r="2.2" fill="#2ea31a" fill-opacity="0.74"/>
<circle cx="709.0" cy="239.75" r="2.2" fill="#2ea31a" fill-opacity="0.74"/>
<circle cx="710.5" cy="239.5" r="2.2" fill="#2ea31a" fill-opacity="0.74"/>
<circle cx="712.12" cy="239.38" r="2.2" fill="#2ea31a" fill-opacity="0.74"/>
<circle cx="713.12" cy="233.88" r="2.2" fill="#2ea31a" fill-opacity="0.74"/>
<circle cx="714.0" cy="230.0" r="2.2" fill="#2ea31a" fill-opacity="0.74"/>
<circle cx="155.88" cy="453.12" r="2.2" fill="#f0908a" fill-opacity="0.8"/>
<circle cx="155.12" cy="459.62" r="2.2" fill="#f0908a" fill-opacity="0.8"/>
<circle cx="162.88" cy="405.25" r="3.5152" fill="#f0908a" fill-opacity="0.8"/>
<circle cx="164.0" cy="406.5" r="2.6" fill="#f0908a" fill-opacity="0.8"/>
<circle cx="165.0" cy="407.75" r="2.2" fill="#f0908a" fill-opacity="0.8"/>
<circle cx="170.38" cy="405.5" r="2.2" fill="#f0908a" fill-opacity="0.8"/>
<circle cx="165.0" cy="412.12" r="2.2" fill="#f0908a" fill-opacity="0.8"/>
<circle cx="167.25" cy="412.5" r="2.4752" fill="#f0908a" fill-opacity="0.8"/>
<circle cx="169.38" cy="411.25" r="2.2" fill="#f0908a" fill-opacity="0.8"/>
<circle cx="171.5" cy="409.62" r="2.2" fill="#f0908a" fill-opacity="0.8"/>
<circle cx="172.5" cy="416.25" r="2.2" fill="#f0908a" fill-opacity="0.8"/>
<circle cx="174.0" cy="419.75" r="2.2" fill="#f0908a" fill-opacity="0.8"/>
<circle cx="175.62" cy="418.75" r="2.2" fill="#f0908a" fill-opacity="0.8"/>
<circle cx="177.5" cy="415.62" r="2.2" fill="#f0908a" fill-opacity="0.8"/>
<circle cx="178.12" cy="423.75" r="2.2" fill="#f0908a" fill-opacity="0.8"/>
<circle cx="179.62" cy="420.62" r="2.2" fill="#f0908a" fill-opacity="0.8"/>
<circle cx="180.0" cy="422.25" r="2.2" fill="#f0908a" fill-opacity="0.8"/>
<circle cx="181.5" cy="409.75" r="2.2" fill="#f0908a" fill-opacity="0.8"/>
<circle cx="183.12" cy="412.5" r="2.2" fill="#f0908a" fill-opacity="0.8"/>
<circle cx="183.5" cy="415.25" r="2.2" fill="#f0908a" fill-opacity="0.8"/>
<circle cx="185.0" cy="410.62" r="2.2" fill="#f0908a" fill-opacity="0.8"/>
<circle cx="187.12" cy="408.75" r="2.2" fill="#f0908a" fill-opacity="0.8"/>
<circle cx="187.62" cy="417.5" r="2.2" fill="#f0908a" fill-opacity="0.8"/>
<circle cx="188.75" cy="422.75" r="2.2" fill="#f0908a" fill-opacity="0.8"/>
<circle cx="189.75" cy="426.5" r="2.2" fill="#f0908a" fill-opacity="0.8"/>
<circle cx="191.0" cy="427.5" r="2.2" fill="#f0908a" fill-opacity="0.8"/>
<circle cx="191.62" cy="420.0" r="2.2" fill="#f0908a" fill-opacity="0.8"/>
<circle cx="230.62" cy="343.12" r="2.6" fill="#f0908a" fill-opacity="0.8"/>
<circle cx="229.88" cy="361.5" r="2.8600000000000003" fill="#f0908a" fill-opacity="0.8"/>
<circle cx="271.0" cy="294.5" r="2.2" fill="#f0908a" fill-opacity="0.8"/>
<circle cx="271.88" cy="295.88" r="2.2" fill="#f0908a" fill-opacity="0.8"/>
<circle cx="273.5" cy="288.0" r="2.2" fill="#f0908a" fill-opacity="0.8"/>
<circle cx="274.38" cy="281.12" r="2.2" fill="#f0908a" fill-opacity="0.8"/>
<circle cx="275.62" cy="277.75" r="2.2" fill="#f0908a" fill-opacity="0.8"/>
<circle cx="276.38" cy="268.62" r="2.2" fill="#f0908a" fill-opacity="0.8"/>
<circle cx="277.88" cy="267.0" r="2.2" fill="#f0908a" fill-opacity="0.8"/>
<circle cx="279.38" cy="265.5" r="2.2" fill="#f0908a" fill-opacity="0.8"/>
<circle cx="280.38" cy="270.5" r="2.2" fill="#f0908a" fill-opacity="0.8"/>
<circle cx="281.88" cy="270.88" r="2.2" fill="#f0908a" fill-opacity="0.8"/>
<circle cx="283.25" cy="273.0" r="2.2" fill="#f0908a" fill-opacity="0.8"/>
<circle cx="283.88" cy="278.25" r="2.8600000000000003" fill="#f0908a" fill-opacity="0.8"/>
<circle cx="285.38" cy="284.88" r="2.2048" fill="#f0908a" fill-opacity="0.8"/>
<circle cx="287.25" cy="274.88" r="2.2" fill="#f0908a" fill-opacity="0.8"/>
<circle cx="288.88" cy="273.62" r="2.2" fill="#f0908a" fill-opacity="0.8"/>
<circle cx="290.75" cy="274.25" r="2.2" fill="#f0908a" fill-opacity="0.8"/>
<circle cx="292.5" cy="271.75" r="2.2" fill="#f0908a" fill-opacity="0.8"/>
<circle cx="293.75" cy="275.25" r="2.2" fill="#f0908a" fill-opacity="0.8"/>
<circle cx="291.0" cy="279.25" r="2.2" fill="#f0908a" fill-opacity="0.8"/>
<circle cx="233.81" cy="315.0" r="2.2" fill="#f0908a" fill-opacity="0.8"/>
<circle cx="232.12" cy="316.38" r="2.2" fill="#f0908a" fill-opacity="0.8"/>
<circle cx="231.94" cy="321.56" r="2.34" fill="#f0908a" fill-opacity="0.8"/>
<circle cx="489.62" cy="251.25" r="2.34" fill="#f0908a" fill-opacity="0.8"/>
<circle cx="492.12" cy="250.62" r="2.34" fill="#f0908a" fill-opacity="0.8"/>
<circle cx="494.0" cy="253.12" r="2.34" fill="#f0908a" fill-opacity="0.8"/>
<circle cx="489.0" cy="254.0" r="2.2" fill="#f0908a" fill-opacity="0.8"/>
<circle cx="508.38" cy="230.62" r="2.2" fill="#f0908a" fill-opacity="0.8"/>
<circle cx="518.62" cy="229.62" r="2.2" fill="#f0908a" fill-opacity="0.8"/>
<circle cx="509.0" cy="239.75" r="2.2" fill="#f0908a" fill-opacity="0.8"/>
<circle cx="513.38" cy="238.12" r="2.2" fill="#f0908a" fill-opacity="0.8"/>
<circle cx="515.25" cy="236.88" r="2.2" fill="#f0908a" fill-opacity="0.8"/>
<circle cx="516.25" cy="235.62" r="2.2" fill="#f0908a" fill-opacity="0.8"/>
<circle cx="517.12" cy="240.0" r="2.2" fill="#f0908a" fill-opacity="0.8"/>
<circle cx="518.75" cy="238.75" r="2.2" fill="#f0908a" fill-opacity="0.8"/>
<circle cx="520.25" cy="236.88" r="2.2" fill="#f0908a" fill-opacity="0.8"/>
<circle cx="521.5" cy="235.25" r="2.2" fill="#f0908a" fill-opacity="0.8"/>
<circle cx="523.38" cy="234.38" r="2.2" fill="#f0908a" fill-opacity="0.8"/>
<circle cx="749.0" cy="181.25" r="2.8600000000000003" fill="#f0908a" fill-opacity="0.8"/>
<circle cx="746.5" cy="188.75" r="2.6" fill="#f0908a" fill-opacity="0.8"/>
<circle cx="749.62" cy="186.88" r="2.2" fill="#f0908a" fill-opacity="0.8"/>
<circle cx="751.5" cy="188.75" r="2.2" fill="#f0908a" fill-opacity="0.8"/>
<circle cx="753.0" cy="191.0" r="2.2" fill="#f0908a" fill-opacity="0.8"/>
<circle cx="741.5" cy="195.0" r="3.12" fill="#f0908a" fill-opacity="0.8"/>
<circle cx="739.62" cy="196.88" r="2.34" fill="#f0908a" fill-opacity="0.8"/>
<circle cx="744.0" cy="193.12" r="2.2" fill="#f0908a" fill-opacity="0.8"/>
<circle cx="743.75" cy="198.12" r="2.6" fill="#f0908a" fill-opacity="0.8"/>
<circle cx="745.88" cy="200.62" r="2.2" fill="#f0908a" fill-opacity="0.8"/>
<circle cx="747.75" cy="196.88" r="2.2" fill="#f0908a" fill-opacity="0.8"/>
<circle cx="751.5" cy="196.88" r="2.6" fill="#f0908a" fill-opacity="0.8"/>
<circle cx="785.25" cy="151.25" r="2.2" fill="#f0908a" fill-opacity="0.8"/>
<circle cx="787.12" cy="153.12" r="2.2" fill="#f0908a" fill-opacity="0.8"/>
<circle cx="786.5" cy="156.5" r="2.2" fill="#f0908a" fill-opacity="0.8"/>
<circle cx="785.0" cy="160.0" r="2.2" fill="#f0908a" fill-opacity="0.8"/>
<circle cx="783.38" cy="166.25" r="2.6" fill="#f0908a" fill-opacity="0.8"/>
<circle cx="781.75" cy="170.25" r="4.94" fill="#f0908a" fill-opacity="0.8"/>
<circle cx="787.12" cy="139.38" r="2.6" fill="#f0908a" fill-opacity="0.8"/>
<circle cx="826.75" cy="160.0" r="2.2" fill="#f0908a" fill-opacity="0.8"/>
<circle cx="828.0" cy="168.38" r="2.2" fill="#f0908a" fill-opacity="0.8"/>
<circle cx="786.9" cy="140.0" r="2.2880000000000003" fill="#f0908a" fill-opacity="0.8"/>
<circle cx="785.4" cy="151.25" r="2.2880000000000003" fill="#f0908a" fill-opacity="0.8"/>
<circle cx="787.6" cy="152.8" r="2.2" fill="#f0908a" fill-opacity="0.8"/>
<circle cx="508.75" cy="239.69" r="2.2" fill="#f0908a" fill-opacity="0.8"/>
<circle cx="507.81" cy="230.31" r="2.2" fill="#f0908a" fill-opacity="0.8"/>
<circle cx="238.5" cy="258.62" r="5.720000000000001" fill="#d62728" fill-opacity="0.76"/>
<circle cx="240.38" cy="257.75" r="5.720000000000001" fill="#d62728" fill-opacity="0.76"/>
<circle cx="238.5" cy="268.62" r="4.68" fill="#d62728" fill-opacity="0.76"/>
<circle cx="240.38" cy="278.62" r="3.64" fill="#d62728" fill-opacity="0.76"/>
<circle cx="241.62" cy="280.75" r="2.34" fill="#d62728" fill-opacity="0.76"/>
<circle cx="236.25" cy="294.0" r="3.9000000000000004" fill="#d62728" fill-opacity="0.76"/>
<circle cx="234.5" cy="297.75" r="3.12" fill="#d62728" fill-opacity="0.76"/>
<circle cx="235.75" cy="299.88" r="2.2" fill="#d62728" fill-opacity="0.76"/>
<circle cx="243.5" cy="306.38" r="4.16" fill="#d62728" fill-opacity="0.76"/>
<circle cx="241.62" cy="286.75" r="2.8600000000000003" fill="#d62728" fill-opacity="0.76"/>
<circle cx="244.12" cy="287.0" r="3.12" fill="#d62728" fill-opacity="0.76"/>
<circle cx="246.0" cy="287.75" r="2.8600000000000003" fill="#d62728" fill-opacity="0.76"/>
<circle cx="247.25" cy="288.25" r="2.2" fill="#d62728" fill-opacity="0.76"/>
<circle cx="247.88" cy="281.75" r="2.2" fill="#d62728" fill-opacity="0.76"/>
<circle cx="249.12" cy="274.88" r="2.2" fill="#d62728" fill-opacity="0.76"/>
<circle cx="250.38" cy="277.38" r="2.2" fill="#d62728" fill-opacity="0.76"/>
<circle cx="252.0" cy="275.75" r="2.2" fill="#d62728" fill-opacity="0.76"/>
<circle cx="251.38" cy="279.25" r="2.2" fill="#d62728" fill-opacity="0.76"/>
<circle cx="253.12" cy="265.5" r="2.8600000000000003" fill="#d62728" fill-opacity="0.76"/>
<circle cx="255.0" cy="267.75" r="2.2" fill="#d62728" fill-opacity="0.76"/>
<circle cx="253.88" cy="269.88" r="2.2" fill="#d62728" fill-opacity="0.76"/>
<circle cx="255.75" cy="278.38" r="2.2" fill="#d62728" fill-opacity="0.76"/>
<circle cx="258.25" cy="284.25" r="2.2" fill="#d62728" fill-opacity="0.76"/>
<circle cx="256.88" cy="288.38" r="2.2" fill="#d62728" fill-opacity="0.76"/>
<circle cx="259.12" cy="276.12" r="2.34" fill="#d62728" fill-opacity="0.76"/>
<circle cx="260.75" cy="275.75" r="2.2" fill="#d62728" fill-opacity="0.76"/>
<circle cx="260.0" cy="278.62" r="2.2" fill="#d62728" fill-opacity="0.76"/>
<circle cx="262.5" cy="275.25" r="2.2" fill="#d62728" fill-opacity="0.76"/>
<circle cx="264.12" cy="277.38" r="2.2" fill="#d62728" fill-opacity="0.76"/>
<circle cx="264.5" cy="266.5" r="2.34" fill="#d62728" fill-opacity="0.76"/>
<circle cx="266.0" cy="268.25" r="2.2" fill="#d62728" fill-opacity="0.76"/>
<circle cx="266.62" cy="271.75" r="4.16" fill="#d62728" fill-opacity="0.76"/>
<circle cx="268.5" cy="282.38" r="2.34" fill="#d62728" fill-opacity="0.76"/>
<circle cx="267.5" cy="287.75" r="4.42" fill="#d62728" fill-opacity="0.76"/>
<circle cx="270.0" cy="288.0" r="2.2" fill="#d62728" fill-opacity="0.76"/>
<circle cx="495.62" cy="224.06" r="8.32" fill="#d62728" fill-opacity="0.76"/>
<circle cx="496.88" cy="230.62" r="5.5224" fill="#d62728" fill-opacity="0.76"/>
<circle cx="499.06" cy="221.56" r="2.2776" fill="#d62728" fill-opacity="0.76"/>
<circle cx="500.62" cy="239.38" r="4.68" fill="#d62728" fill-opacity="0.76"/>
<circle cx="501.06" cy="242.5" r="4.0352" fill="#d62728" fill-opacity="0.76"/>
<circle cx="503.12" cy="233.12" r="2.6" fill="#d62728" fill-opacity="0.76"/>
<circle cx="504.38" cy="228.75" r="2.2776" fill="#d62728" fill-opacity="0.76"/>
<circle cx="505.31" cy="230.94" r="2.2" fill="#d62728" fill-opacity="0.76"/>
<circle cx="510.94" cy="243.12" r="3.5776" fill="#d62728" fill-opacity="0.76"/>
<circle cx="503.38" cy="232.5" r="2.8600000000000003" fill="#d62728" fill-opacity="0.76"/>
<circle cx="505.88" cy="230.62" r="2.2" fill="#d62728" fill-opacity="0.76"/>
<circle cx="510.25" cy="242.5" r="3.64" fill="#d62728" fill-opacity="0.76"/>
<circle cx="509.62" cy="246.88" r="2.8600000000000003" fill="#d62728" fill-opacity="0.76"/>
<circle cx="511.5" cy="247.5" r="2.34" fill="#d62728" fill-opacity="0.76"/>
<circle cx="513.0" cy="252.75" r="2.2" fill="#d62728" fill-opacity="0.76"/>
<circle cx="819.0" cy="160.0" r="4.16" fill="#d62728" fill-opacity="0.76"/>
<circle cx="823.38" cy="160.25" r="2.8600000000000003" fill="#d62728" fill-opacity="0.76"/>
<circle cx="820.62" cy="172.5" r="6.76" fill="#d62728" fill-opacity="0.76"/>
<circle cx="821.5" cy="168.12" r="3.2448" fill="#d62728" fill-opacity="0.76"/>
<circle cx="793.3" cy="99.9" r="19.5" fill="#d62728" fill-opacity="0.76"/>
<circle cx="799.8" cy="101.8" r="16.536" fill="#d62728" fill-opacity="0.76"/>
<circle cx="798.0" cy="104.1" r="14.56" fill="#d62728" fill-opacity="0.76"/>
<circle cx="806.5" cy="117.5" r="10.4" fill="#d62728" fill-opacity="0.76"/>
<circle cx="786.0" cy="121.5" r="5.512" fill="#d62728" fill-opacity="0.76"/>
<circle cx="791.6" cy="126.25" r="5.2" fill="#d62728" fill-opacity="0.76"/>
<circle cx="801.0" cy="126.9" r="7.176000000000001" fill="#d62728" fill-opacity="0.76"/>
<circle cx="797.25" cy="131.9" r="5.824" fill="#d62728" fill-opacity="0.76"/>
<circle cx="812.25" cy="130.0" r="5.512" fill="#d62728" fill-opacity="0.76"/>
<circle cx="805.4" cy="135.6" r="5.824" fill="#d62728" fill-opacity="0.76"/>
<circle cx="792.9" cy="138.75" r="6.5" fill="#d62728" fill-opacity="0.76"/>
<circle cx="816.0" cy="140.6" r="5.2" fill="#d62728" fill-opacity="0.76"/>
<circle cx="813.5" cy="135.6" r="3.9000000000000004" fill="#d62728" fill-opacity="0.76"/>
<circle cx="800.4" cy="143.1" r="5.512" fill="#d62728" fill-opacity="0.76"/>
<circle cx="807.6" cy="145.6" r="5.2" fill="#d62728" fill-opacity="0.76"/>
<circle cx="802.9" cy="146.9" r="5.824" fill="#d62728" fill-opacity="0.76"/>
<circle cx="799.5" cy="107.0" r="13.0" fill="#d62728" fill-opacity="0.76"/>
<circle cx="796.0" cy="120.0" r="7.28" fill="#d62728" fill-opacity="0.76"/>
<circle cx="801.0" cy="122.0" r="6.24" fill="#d62728" fill-opacity="0.76"/>
<circle cx="794.0" cy="128.0" r="5.2" fill="#d62728" fill-opacity="0.76"/>
<circle cx="803.0" cy="131.0" r="5.720000000000001" fill="#d62728" fill-opacity="0.76"/>
<circle cx="799.0" cy="137.0" r="5.2" fill="#d62728" fill-opacity="0.76"/>
<circle cx="808.0" cy="127.0" r="4.68" fill="#d62728" fill-opacity="0.76"/>
<circle cx="811.0" cy="134.0" r="4.16" fill="#d62728" fill-opacity="0.76"/>
<circle cx="806.0" cy="140.0" r="4.68" fill="#d62728" fill-opacity="0.76"/>
<circle cx="797.0" cy="143.0" r="4.68" fill="#d62728" fill-opacity="0.76"/>
<circle cx="803.0" cy="139.0" r="4.16" fill="#d62728" fill-opacity="0.76"/>
<circle cx="813.0" cy="128.0" r="3.64" fill="#d62728" fill-opacity="0.76"/>
<circle cx="815.0" cy="136.0" r="3.64" fill="#d62728" fill-opacity="0.76"/>
<circle cx="810.0" cy="123.0" r="5.2" fill="#d62728" fill-opacity="0.76"/>
</svg>
<div class="tw" id="w1" style="left:348.2px;transform:scaleX(0.943)">BNB:</div><div class="tw" id="w2" style="left:401.8px;transform:scaleX(0.953)">Futures</div><div class="tw" id="w3" style="left:480.6px">Volume</div><div class="tw" id="w4" style="left:557.2px;transform:scaleX(1.01)">Bubble</div><div class="tw" id="w5" style="left:631.7px;transform:scaleX(1.06)">Map</div>
<div class="ld" style="left:358px;background:#8a889a"></div><div class="lg" id="l1" style="left:371px">Neutral</div>
<div class="ld" style="left:433.3px;background:#60bf50"></div><div class="lg" id="l2" style="left:446px">Cooling</div>
<div class="ld" style="left:510.5px;background:#f4a8a0"></div><div class="lg" id="l3" style="left:523.5px">Heating</div>
<div class="ld" style="left:588.2px;background:#e65a5a"></div><div class="lg" id="l4" style="left:601px">Overheating</div>
<div class="yl" style="top:149.1px">$1K</div><div class="yl" style="top:172.2px">$900</div><div class="yl" style="top:197.9px">$800</div><div class="yl" style="top:227.2px">$700</div><div class="yl" style="top:260.9px">$600</div><div class="yl" style="top:300.8px">$500</div><div class="yl" style="top:349.6px">$400</div><div class="yl" style="top:412.6px">$300</div><div class="yl" style="top:501.3px">$200</div><div class="xl" style="left:37.9px">2023 Oct</div><div class="xl" style="left:127.2px">2024 Jan</div><div class="xl" style="left:215.4px">2024 Apr</div><div class="xl" style="left:303.7px">2024 Jul</div><div class="xl" style="left:392.8px">2024 Oct</div><div class="xl" style="left:482.0px">2025 Jan</div><div class="xl" style="left:569.8px">2025 Apr</div><div class="xl" style="left:657.9px">2025 Jul</div><div class="xl" style="left:747.1px">2025 Oct</div><div class="xl" style="left:836.4px">2026 Jan</div>
<div class="price">Price</div>
<div class="copy">© CryptoQuant. All rights reserved</div>
</body></html>
